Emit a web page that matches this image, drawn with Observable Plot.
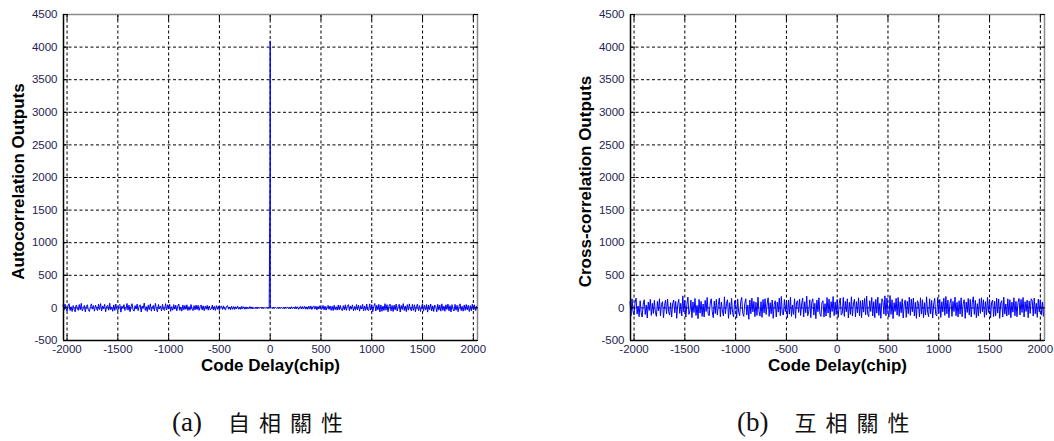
<!DOCTYPE html>
<html><head><meta charset="utf-8">
<script src="https://cdn.jsdelivr.net/npm/d3@7"></script>
<script src="https://cdn.jsdelivr.net/npm/@observablehq/plot@0.6"></script>
<style>
body{margin:0;background:#fff;}
#wrap{position:relative;width:1054px;height:441px;overflow:hidden;background:#fff}
.panel{position:absolute;top:0}
.cap{position:absolute;top:405px;white-space:nowrap;color:#111;line-height:32px}
.cap .lat{font-family:"Liberation Serif","DejaVu Serif",serif;font-size:27px}
.cap .cjk{font-family:"Noto Sans CJK TC",sans-serif;font-size:22px;letter-spacing:9px;margin-left:26px}
</style></head><body><div id="wrap"></div>
<script>
// ---- data ----
const xTicks = [-2000,-1500,-1000,-500,0,500,1000,1500,2000];
const yTicks = [-500,0,500,1000,1500,2000,2500,3000,3500,4000,4500];
const xDomain = [-2035, 2041];
const yDomain = [-500, 4500];
const noiseStep = 10;

// autocorrelation, delays -2040..-10 (step 10)
const acLeft = [
 42,-35,58,-12,-48,30,65,-40,18,-55,36,-22,
 -60,45,12,-38,52,-28,70,-45,-10,38,-62,25,
 48,-30,-55,20,62,-18,35,-50,44,-8,-42,58,
 -25,66,-48,30,-15,55,-60,22,40,-35,72,-28,
 15,-52,46,-38,60,-20,-45,38,55,-65,28,-12,
 50,-40,-22,68,-35,42,-58,18,64,-30,-50,35,
 -18,58,-42,25,48,-62,30,-8,75,-38,20,-55,
 45,-28,62,-50,12,38,-45,70,-22,-60,52,-15,
 30,-48,55,-25,-40,65,-32,48,-18,58,-52,20,
 -35,50,-20,42,-45,28,60,-38,15,-50,45,-28,
 38,-22,48,-40,20,-35,52,-15,-42,35,-30,44,
 -25,40,-38,18,45,-30,32,-42,28,-20,38,-35,
 30,-28,-15,42,-32,25,-38,35,-22,30,-40,18,
 28,-25,32,-18,-30,22,35,-20,15,-28,25,-22,
 20,-24,18,-15,26,-20,12,-22,25,-14,18,-20,
 15,-18,12,-14,20,-10,16,-15,8,-12,14,-10,
 10,-8,12,-6,9,-10,6,-7,8,-5,4,-3];
// autocorrelation peak, delays -1, 0, 1
const acPeakDelay = [-1, 0, 1];
const acPeakValue = [2048, 4095, 4];
// autocorrelation, delays 10..2040 (step 10)
const acRight = [
 3,-4,6,-5,8,-7,6,-9,10,-8,12,-10,
 9,-12,14,-8,15,-12,10,-16,18,-10,14,-15,
 20,-14,18,-22,12,25,-18,20,-15,24,-20,16,
 -22,28,-18,30,-25,15,32,-20,26,-30,22,-18,
 35,-25,-15,38,-30,28,-35,20,40,-22,30,-38,
 25,-40,42,-28,18,-35,45,-30,38,-20,-42,35,
 -30,48,-38,25,50,-42,30,-20,46,-45,22,-35,
 52,-28,40,-50,35,-18,55,-45,28,-38,60,-32,
 -40,62,-35,50,-58,25,68,-48,40,-30,55,-62,
 45,-52,28,-40,65,-35,50,-60,30,58,-45,38,
 -55,42,-30,60,-48,20,55,-62,38,-25,66,-40,
 30,-58,50,-35,62,-20,-45,55,-38,48,-60,25,
 58,-42,35,-55,22,64,-50,40,-30,52,-65,45,
 -28,60,-48,32,-55,45,20,-60,55,-35,42,-50,
 62,-38,28,-52,48,-25,58,-45,35,-62,50,-20,
 -48,55,-35,40,-58,30,62,-42,25,-50,45,-38,
 52,-30,40,-55,35,-45,58,-28,48,-40,30,-52];
// cross-correlation, delays -2040..2040 (step 10)
const ccValues = [
 95,-120,140,-60,-110,80,150,-95,30,-135,110,-70,
 -140,60,125,-100,45,-155,90,-40,130,-115,70,-85,
 115,-65,-130,100,-45,140,-120,55,95,-150,35,120,
 -90,135,-55,-110,80,-140,60,120,-75,100,-160,45,
 130,-85,70,-125,185,-60,110,-140,50,165,-100,-45,
 120,-150,90,-70,145,-115,40,-165,130,-80,100,-130,
 60,-140,115,-55,160,-95,-120,75,140,-60,-150,105,
 -85,130,-110,50,150,-135,90,-45,-125,170,-90,65,
 125,-160,80,-100,145,-70,-140,110,55,-155,135,-65,
 -120,95,160,-85,-130,70,140,-110,45,-175,120,-90,
 150,-60,100,-135,85,-115,165,-50,-125,95,-145,130,
 -75,140,-100,60,155,-130,80,-90,120,-160,55,110,
 -140,90,-65,150,-120,175,-85,-110,130,-55,100,-150,
 120,-95,165,-130,45,-100,140,-160,85,110,-70,135,
 -115,60,150,-140,95,-75,180,-120,-50,125,-150,90,
 140,-110,70,-165,120,-60,155,-95,-130,85,110,-140,
 65,-125,160,-80,135,-150,95,-55,175,-120,90,-100,
 130,-145,70,150,-110,-85,160,-130,100,-60,140,-155,
 85,-100,170,-125,60,135,-140,95,-75,155,-120,110,
 -150,120,-65,145,-105,180,-90,-135,110,-55,160,-125,
 95,-150,130,-80,165,-115,70,-160,140,105,-95,185,
 -120,150,-70,-140,190,-100,125,-165,80,-55,145,-110,
 160,-130,95,-75,140,-155,60,120,-145,100,-90,165,
 -115,135,-60,150,-125,85,-160,110,70,-140,155,-95,
 125,-150,80,-110,170,-65,-135,140,-90,115,-155,60,
 145,-100,-125,160,-80,130,-145,95,-60,150,-115,175,
 -90,120,-150,70,140,-130,100,-55,165,-120,85,-140,
 110,-95,155,-135,60,125,-160,90,-70,145,-110,130,
 -140,80,170,-100,115,-150,65,-125,140,-85,155,-60,
 125,-145,95,-110,160,-70,130,-155,85,120,-135,100,
 -120,150,-80,135,-160,75,110,-140,165,-95,60,-125,
 140,-105,125,-150,90,-65,155,-120,100,-135,80,145,
 -110,130,-70,160,-140,95,-55,120,-150,105,-85,140,
 115,-125,150,-90,70,-145,135,-60,125,-110,90,-130,
 100];

// ---- build tables ----
const acSeries = [
  ...acLeft.map((v,i)=>({delay: -2040 + i*noiseStep, value: v})),
  ...acPeakDelay.map((d,i)=>({delay: d, value: acPeakValue[i]})),
  ...acRight.map((v,i)=>({delay: 10 + i*noiseStep, value: v}))
];
const ccSeries = ccValues.map((v,i)=>({delay: -2040 + i*noiseStep, value: v}));

const labelColor = "#1e1e50";
const fmt = d => String(d);
function makePanel(series, yLabel) {
  return Plot.plot({
    width: 489, height: 385,
    marginLeft: 63, marginRight: 12, marginTop: 14, marginBottom: 45,
    x: {domain: xDomain},
    y: {domain: yDomain},
    style: {fontFamily: "'Liberation Sans', Arial, sans-serif", fontSize: "12px", background: "white", overflow: "visible"},
    marks: [
      Plot.gridX(xTicks, {stroke: "#000", strokeOpacity: 1, strokeWidth: 1, strokeDasharray: "3,2.5"}),
      Plot.gridY(yTicks, {stroke: "#000", strokeOpacity: 1, strokeWidth: 1, strokeDasharray: "3,2.5"}),
      Plot.line(series, {x: "delay", y: "value", stroke: "#0000ff", strokeWidth: 1}),
      Plot.ruleY([yDomain[1]], {stroke: "#8a8a8a", strokeWidth: 1.5}),
      Plot.ruleX([xDomain[1]], {stroke: "#8a8a8a", strokeWidth: 1.5}),
      Plot.ruleY([yDomain[0]], {stroke: "#000", strokeWidth: 1.5}),
      Plot.ruleX([xDomain[0]], {stroke: "#000", strokeWidth: 1.5}),
      Plot.axisX(xTicks, {anchor: "bottom", tickSize: -5, fill: "none", label: null, stroke: "#000"}),
      Plot.axisX(xTicks, {anchor: "top", tickSize: -5, fill: "none", label: null, stroke: "#000"}),
      Plot.axisY(yTicks, {anchor: "left", tickSize: -5, fill: "none", label: null, stroke: "#000"}),
      Plot.axisY(yTicks, {anchor: "right", tickSize: -5, fill: "none", label: null, stroke: "#000"}),
      Plot.axisX(xTicks, {anchor: "bottom", tickSize: 0, tickPadding: 4, label: null, fill: labelColor, fontSize: 11.5, tickFormat: fmt}),
      Plot.axisY(yTicks, {anchor: "left", tickSize: 0, tickPadding: 6, label: null, fill: labelColor, fontSize: 11.5, tickFormat: fmt}),
      Plot.text(["Code Delay(chip)"], {text: d => d, frameAnchor: "bottom", dy: 30, fontWeight: "bold", fontSize: 17, fill: "#000"}),
      Plot.text([yLabel], {text: d => d, frameAnchor: "left", textAnchor: "middle", dx: -45, dy: 4, rotate: -90, fontWeight: "bold", fontSize: 17, fill: "#000"})
    ]
  });
}

const wrap = document.getElementById("wrap");
const pa = makePanel(acSeries, "Autocorrelation Outputs");
pa.classList.add("panel"); pa.style.left = "0px";
const pb = makePanel(ccSeries, "Cross-correlation Outputs");
pb.classList.add("panel"); pb.style.left = "567px";
wrap.appendChild(pa); wrap.appendChild(pb);

const capA = document.createElement("div");
capA.className = "cap"; capA.style.left = "172px";
capA.innerHTML = '<span class="lat">(a)</span><span class="cjk">自相關性</span>';
const capB = document.createElement("div");
capB.className = "cap"; capB.style.left = "737px";
capB.innerHTML = '<span class="lat">(b)</span><span class="cjk">互相關性</span>';
wrap.appendChild(capA); wrap.appendChild(capB);
</script>
</body></html>
